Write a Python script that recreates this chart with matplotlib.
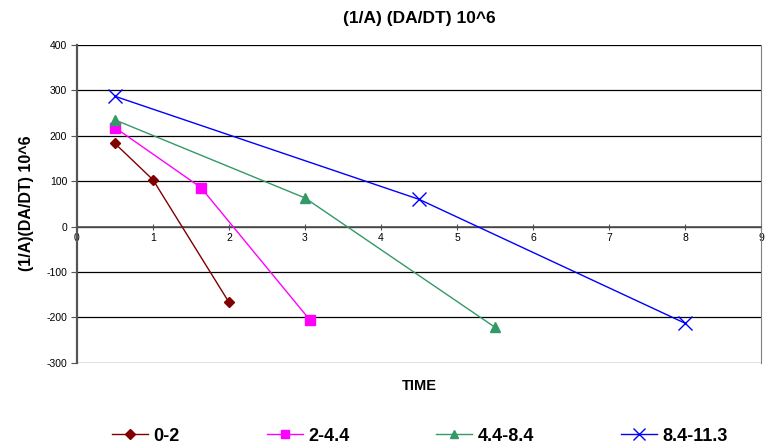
import matplotlib
matplotlib.use("Agg")
import matplotlib.pyplot as plt

plt.rcParams['font.family'] = ['Liberation Sans', 'DejaVu Sans']
plt.rcParams['axes.unicode_minus'] = False

# Series data: time vs (1/A)(dA/dt) * 10^6
series_names = ["0-2", "2-4.4", "4.4-8.4", "8.4-11.3"]
x_0_2 = [0.5, 1.0, 2.0]
y_0_2 = [183, 103, -167]
x_2_44 = [0.5, 1.63, 3.07]
y_2_44 = [218, 86, -207]
x_44_84 = [0.5, 3.0, 5.5]
y_44_84 = [235, 63, -222]
x_84_113 = [0.5, 4.5, 8.0]
y_84_113 = [287, 60, -213]

x_ticks = list(range(0, 10))
y_ticks = list(range(-300, 401, 100))

colors = ["#800000", "#FF00FF", "#339966", "#0000FF"]
markers = ["D", "s", "^", "x"]
msizes = [5, 7, 7, 10]
legend_msizes = [5, 6, 6, 9]

fig = plt.figure(figsize=(7.66, 4.47), dpi=100)
ax = fig.add_axes([0.1005, 0.1886, 0.893, 0.7107])

for xs, ys, name, c, m, ms in zip(
        [x_0_2, x_2_44, x_44_84, x_84_113],
        [y_0_2, y_2_44, y_44_84, y_84_113],
        series_names, colors, markers, msizes):
    ax.plot(xs, ys, color=c, lw=1.0, marker=m, markersize=ms,
            markeredgecolor=c, markerfacecolor=c, markeredgewidth=1.0,
            label=name, zorder=3)

ax.set_xlim(0, 9)
ax.set_ylim(-300, 400)
ax.set_xticks(x_ticks)
ax.set_yticks(y_ticks)
ax.yaxis.grid(True, color="black", lw=0.9)
ax.set_axisbelow(True)

ax.spines['top'].set_visible(False)
ax.spines['right'].set_color("#808080")
ax.spines['left'].set_color("#555555")
ax.spines['left'].set_linewidth(1.6)
ax.spines['bottom'].set_position(('data', 0))
ax.spines['bottom'].set_color("#555555")
ax.spines['bottom'].set_linewidth(1.2)

ax.tick_params(axis='x', direction='inout', length=5, labelsize=7.5, pad=2, color="#555555")
ax.tick_params(axis='y', direction='out', length=4, labelsize=7.5, pad=3, color="#555555")

ax.set_title("(1/A) (DA/DT) 10^6", fontsize=12.5, fontweight='bold', pad=16)
fig.text(0.035, 0.546, "(1/A)(DA/DT) 10^6", fontsize=11.5, fontweight='bold',
         rotation=90, ha='center', va='center')
fig.text(0.547, 0.136, "TIME", fontsize=10.5, fontweight='bold', ha='center', va='center')

leg = fig.legend(loc='center', bbox_to_anchor=(0.548, 0.024), ncol=4, frameon=False,
                 prop={'weight': 'bold', 'size': 13}, columnspacing=4.8,
                 handlelength=2.0, handletextpad=0.3)
for h, ms in zip(leg.legend_handles, legend_msizes):
    h.set_markersize(ms)

fig.savefig("out.png", dpi=100)
